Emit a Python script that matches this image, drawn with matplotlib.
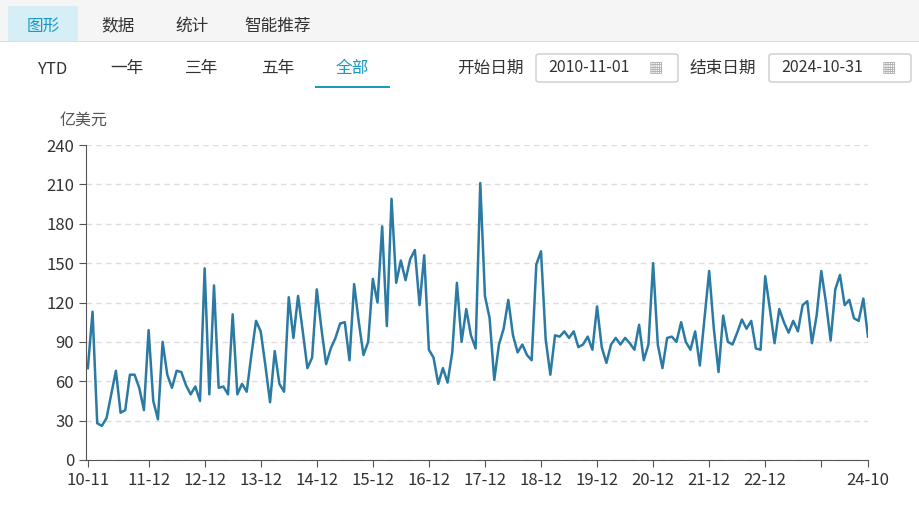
import matplotlib
matplotlib.use("Agg")
import matplotlib.pyplot as plt
from matplotlib.patches import Rectangle, FancyBboxPatch

plt.rcParams['font.family'] = ['Noto Sans CJK SC', 'DejaVu Sans']

# Monthly values, 2010-11 .. 2024-10 (亿美元)
values = [
    70, 113, 28, 26, 32, 50, 68, 36, 38, 65, 65, 55, 38, 99, 45, 31, 90, 65, 55, 68, 67, 57, 50, 56, 45, 146,
    50, 133, 55, 56, 50, 111, 50, 58, 52, 80, 106, 98,
    72, 44, 83, 58, 52, 124, 93, 125, 98, 70, 78, 130,
    100, 73, 85, 93, 104, 105, 76, 134, 105, 80, 90, 138,
    120, 178, 102, 199, 135, 152, 137, 153, 160, 118, 156, 84,
    78, 58, 70, 59, 82, 135, 90, 115, 95, 85, 211, 125,
    108, 61, 88, 100, 122, 95, 82, 88, 80, 76, 149, 159,
    92, 65, 95, 94, 98, 93, 98, 86, 88, 94, 84, 117,
    86, 74, 88, 93, 88, 93, 89, 84, 103, 76, 88, 150,
    88, 70, 93, 94, 90, 105, 90, 84, 98, 72, 108, 144,
    100, 67, 110, 90, 88, 97, 107, 100, 106, 85, 84, 140,
    115, 89, 115, 105, 97, 106, 98, 118, 121, 89, 110, 144,
    120, 91, 130, 141, 118, 122, 108, 106, 123, 94,
]
tick_idx = [0, 13, 25, 37, 49, 61, 73, 85, 97, 109, 121, 133, 145, 157, 167]
tick_labels = ["10-11", "11-12", "12-12", "13-12", "14-12", "15-12", "16-12", "17-12",
               "18-12", "19-12", "20-12", "21-12", "22-12", "", "24-10"]
y_ticks = [0, 30, 60, 90, 120, 150, 180, 210, 240]

fig = plt.figure(figsize=(9.2, 5.25), dpi=100)
W, H = 920, 525

def px(x, y):
    return x / W, 1 - y / H

# top tab bar
fig.patches.append(Rectangle(px(0, 42), 1, 42 / H, transform=fig.transFigure,
                             facecolor="#f5f5f5", edgecolor="none"))
fig.patches.append(Rectangle(px(8, 42), 70 / W, 36 / H, transform=fig.transFigure,
                             facecolor="#d6eef6", edgecolor="none"))
fig.patches.append(Rectangle(px(0, 42), 1, 1 / H, transform=fig.transFigure,
                             facecolor="#dddddd", edgecolor="none"))
tabs = [("图形", 43, "#1a9ac0"), ("数据", 118, "#333333"), ("统计", 192, "#333333"), ("智能推荐", 278, "#333333")]
for t, x, c in tabs:
    fig.text(*px(x, 26), t, ha="center", va="center", fontsize=12, color=c)

# range buttons
for t, x in [("YTD", 52), ("一年", 127), ("三年", 202), ("五年", 278), ("全部", 352)]:
    fig.text(*px(x, 69), t, ha="center", va="center", fontsize=12,
             color="#1a9ac0" if t == "全部" else "#333333")
fig.patches.append(Rectangle(px(315, 88), 75 / W, 1.5 / H, transform=fig.transFigure,
                             facecolor="#1a9ac0", edgecolor="none"))

# date pickers
fig.text(*px(490, 68), "开始日期", ha="center", va="center", fontsize=12, color="#333333")
fig.text(*px(723, 68), "结束日期", ha="center", va="center", fontsize=12, color="#333333")
for x0, t in [(536, "2010-11-01"), (769, "2024-10-31")]:
    fig.patches.append(FancyBboxPatch(px(x0, 82), 142 / W, 28 / H, transform=fig.transFigure,
                                      boxstyle="round,pad=0,rounding_size=0.004",
                                      facecolor="white", edgecolor="#cccccc", lw=1))
    fig.text(*px(x0 + 12, 68), t, ha="left", va="center", fontsize=11.5, color="#333333")
    fig.text(*px(x0 + 120, 68), "▦", ha="center", va="center", fontsize=11, color="#aaaaaa",
             family="DejaVu Sans")

ax = fig.add_axes([86 / W, 1 - 460 / H, (868 - 86) / W, 315 / H])
x = list(range(len(values)))
ax.plot(x, values, color="#2a7aa3", lw=1.8)
ax.set_xlim(-0.4, len(values) - 1)
ax.set_ylim(0, 240)
ax.set_yticks(y_ticks)
ax.set_xticks(tick_idx)
ax.set_xticklabels(tick_labels)
ax.grid(axis="y", linestyle=(0, (4, 3)), color="#dddddd", lw=1)
for s in ["top", "right"]:
    ax.spines[s].set_visible(False)
for s in ["left", "bottom"]:
    ax.spines[s].set_color("#555555")
ax.tick_params(colors="#555555", labelsize=12, length=5, labelcolor="#333333")
ax.set_axisbelow(True)
fig.text(*px(84, 120), "亿美元", ha="center", va="center", fontsize=11.5, color="#555555")

fig.savefig("out.png", dpi=100)
